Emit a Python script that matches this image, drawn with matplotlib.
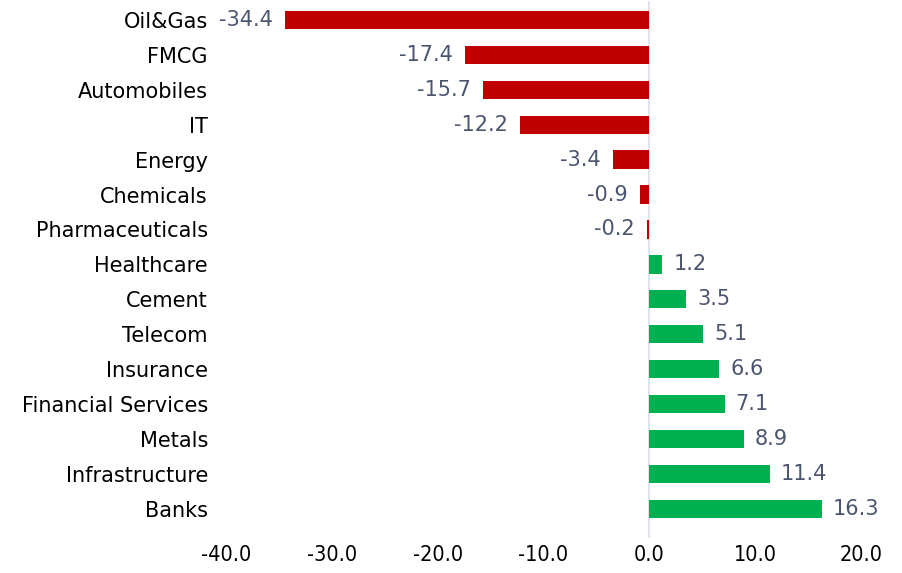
import matplotlib.pyplot as plt

sectors = ['Oil&Gas', 'FMCG', 'Automobiles', 'IT', 'Energy', 'Chemicals',
           'Pharmaceuticals', 'Healthcare', 'Cement', 'Telecom', 'Insurance',
           'Financial Services', 'Metals', 'Infrastructure', 'Banks']
values = [-34.4, -17.4, -15.7, -12.2, -3.4, -0.9, -0.2, 1.2, 3.5, 5.1, 6.6,
          7.1, 8.9, 11.4, 16.3]
xticks = [-40, -30, -20, -10, 0, 10, 20]

red = '#C00000'
green = '#00B050'
label_col = '#4A5670'

fig = plt.figure(figsize=(9.02, 5.73), dpi=100)
ax = fig.add_axes([0.2506, 0.081, 0.704, 0.915])

y = list(range(len(sectors)))
colors = [red if v < 0 else green for v in values]
ax.barh(y, values, height=0.52, color=colors)
ax.set_ylim(len(sectors) - 0.5, -0.5)
ax.set_xlim(-40, 20)

# value labels
for i, v in enumerate(values):
    if v < 0:
        ax.annotate(f'{v:.1f}', (v, i), xytext=(-9, 0), textcoords='offset points',
                    ha='right', va='center', fontsize=15, color=label_col)
    else:
        ax.annotate(f'{v:.1f}', (v, i), xytext=(8, 0), textcoords='offset points',
                    ha='left', va='center', fontsize=15, color=label_col)

ax.set_yticks(y)
ax.set_yticklabels(sectors, fontsize=15)
ax.set_xticks(xticks)
ax.set_xticklabels([f'{t:.1f}' for t in xticks], fontsize=15.5, fontstretch='condensed')
ax.tick_params(axis='both', length=0)
ax.tick_params(axis='y', pad=13)
ax.tick_params(axis='x', pad=13)

for s in ['top', 'right', 'bottom', 'left']:
    ax.spines[s].set_visible(False)
ax.axvline(0, color='#D9DEE8', lw=1.2, ymin=-0.02, ymax=1.0, clip_on=False, zorder=0)

fig.savefig('out.png', dpi=100)
